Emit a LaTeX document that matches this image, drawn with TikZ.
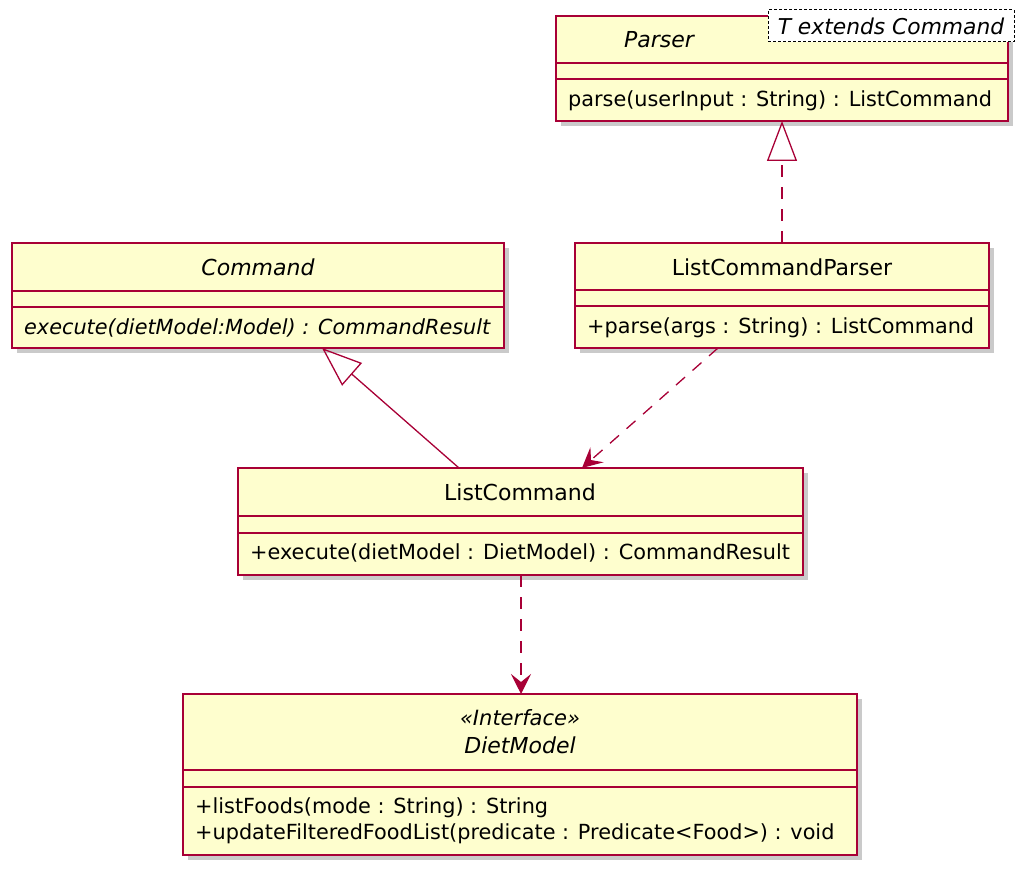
\documentclass[tikz,border=0pt]{standalone}
\usepackage{fontspec}
\setmainfont{DejaVu Sans}
\usetikzlibrary{arrows.meta,shadows,calc}
\definecolor{umlred}{HTML}{A80036}
\definecolor{umlfill}{HTML}{FEFECE}
\tikzset{
  classbox/.style={draw=umlred, fill=umlfill, line width=2pt,
    drop shadow={shadow xshift=5pt, shadow yshift=-5pt, opacity=0.35, fill=black!60}},
  sepline/.style={draw=umlred, line width=2pt},
  titletext/.style={inner sep=0pt, font=\fontsize{22}{26}\selectfont},
  membertext/.style={inner sep=0pt, anchor=west, font=\fontsize{20.8}{24}\selectfont},
  tmplbox/.style={draw=black, fill=white, line width=1pt, dash pattern=on 3pt off 2pt,
    inner sep=2pt, font=\fontsize{21.8}{25}\selectfont\itshape},
  conn/.style={draw=umlred, line width=1.3pt},
  dashconn/.style={conn, dash pattern=on 12pt off 10pt},
  inherit/.style={-{Triangle[open, length=40pt, width=30pt, line width=1.3pt]}},
  depend/.style={-{Stealth[length=20pt, width=20pt, inset=8pt]}, color=umlred}
}
\begin{document}
\begin{tikzpicture}[x=1pt,y=-1pt]
\useasboundingbox (0,0) rectangle (1034,874);

% ---------- Parser ----------
\path[classbox] (556,16) rectangle (1008,121);
\coordinate (parserS) at (782,121);
\draw[sepline] (556,63) -- (1008,63);
\draw[sepline] (556,79) -- (1008,79);
\node[titletext, font=\fontsize{22}{26}\selectfont\itshape] (parserT) at (659,40) {Parser};
\node[tmplbox, minimum width=246pt, minimum height=32pt] (parserTpl) at (891,26) {T extends Command};
\node[membertext] (parserM) at (568,101) {parse(userInput : String) : ListCommand};

% ---------- Command ----------
\path[classbox] (12,243) rectangle (504,348);
\draw[sepline] (12,291) -- (504,291);
\draw[sepline] (12,307) -- (504,307);
\node[titletext, font=\fontsize{22}{26}\selectfont\itshape] (cmdT) at (258,267) {Command};
\node[membertext, font=\fontsize{20.8}{24}\selectfont\itshape] (cmdM) at (24,328) {execute(dietModel:Model) : CommandResult};
\coordinate (cmdS) at (322,348);

% ---------- ListCommandParser ----------
\path[classbox] (575,243) rectangle (989,348);
\draw[sepline] (575,290) -- (989,290);
\draw[sepline] (575,306) -- (989,306);
\node[titletext] (lcpT) at (782,267) {ListCommandParser};
\node[membertext] (lcpM) at (587,328) {+parse(args : String) : ListCommand};
\coordinate (lcpN) at (782,243);
\coordinate (lcpS) at (718,348);

% ---------- ListCommand ----------
\path[classbox] (238,468) rectangle (803,575);
\draw[sepline] (238,516) -- (803,516);
\draw[sepline] (238,533) -- (803,533);
\node[titletext] (lcT) at (520,492) {ListCommand};
\node[membertext] (lcM) at (250,553) {+execute(dietModel : DietModel) : CommandResult};
\coordinate (lcN1) at (459,468);
\coordinate (lcN2) at (582,468);
\coordinate (lcS) at (521,575);

% ---------- DietModel ----------
\path[classbox] (183,694) rectangle (857,855);
\draw[sepline] (183,770) -- (857,770);
\draw[sepline] (183,787) -- (857,787);
\node[titletext, font=\fontsize{21}{25}\selectfont\itshape] (dmS) at (520,718) {«Interface»};
\node[titletext, font=\fontsize{22}{26}\selectfont\itshape] (dmT) at (520,745) {DietModel};
\node[membertext] (dmM1) at (195,808) {+listFoods(mode : String) : String};
\node[membertext] (dmM2) at (195,834) {+updateFilteredFoodList(predicate : Predicate<Food>) : void};
\coordinate (dmN) at (521,694);

% ---------- connectors ----------
\draw[dashconn, inherit] (lcpN) -- (parserS);
\draw[conn, inherit] (lcN1) -- (cmdS);
\draw[dashconn, depend] (lcpS) -- (lcN2);
\draw[dashconn, depend] (lcS) -- (dmN);
\end{tikzpicture}
\end{document}
